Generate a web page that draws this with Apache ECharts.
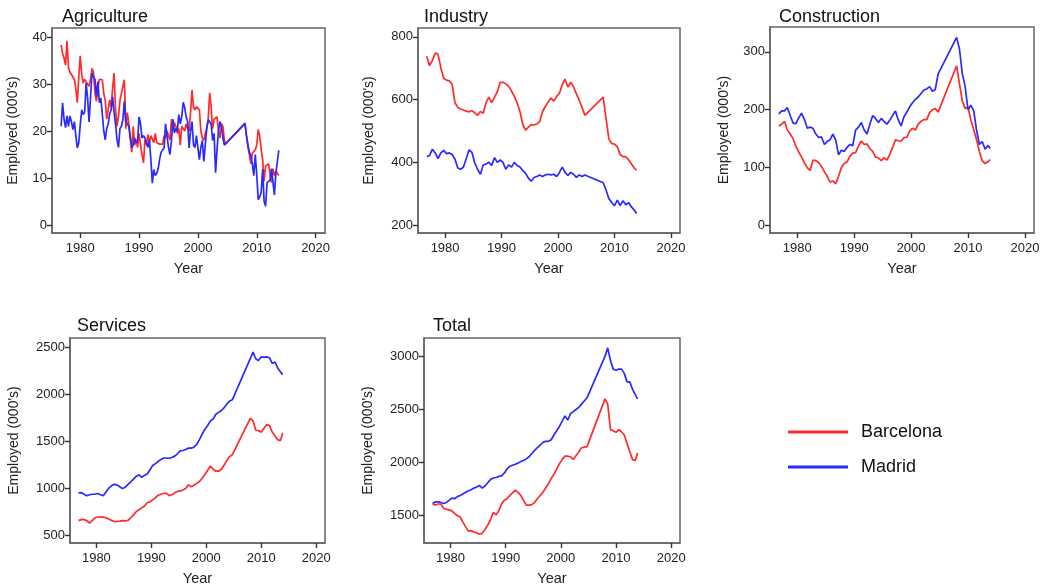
<!DOCTYPE html>
<html><head><meta charset="utf-8">
<script src="https://cdn.jsdelivr.net/npm/echarts@6/dist/echarts.min.js"></script>
<style>html,body{margin:0;padding:0;background:#fff}#c{width:1050px;height:587px}</style>
</head><body><div id="c"></div>
<script>
// ---------- time indices ----------
const semiYears = [1976.75,1977.25,1977.75,1978.25,1978.75,1979.25,1979.75,1980.25,1980.75,1981.25,1981.75,1982.25,1982.75,1983.25,1983.75,1984.25,1984.75,1985.25,1985.75,1986.25,1986.75,1987.25,1987.75,1988.25,1988.75,1989.25,1989.75,1990.25,1990.75,1991.25,1991.75,1992.25,1992.75,1993.25,1993.75,1994.25,1994.75,1995.25,1995.75,1996.25,1996.75,1997.25,1997.75,1998.25,1998.75,1999.25,1999.75,2000.25,2000.75,2001.25,2001.75,2002.25,2002.75,2003.25,2003.75,2004.25,2004.75,
  2008.0,2008.5,2009.0,2009.5,2010.0,2010.5,2011.0,2011.5,2012.0,2012.5,2013.0,2013.5,2013.9];
function quarters(a, b) { const out = []; for (let t = a; t <= b + 1e-9; t += 0.25) out.push(+t.toFixed(2)); return out; }
const quarterYears = quarters(1976.75, 2004.75).concat(quarters(2008.0, 2013.75));

// ---------- Agriculture (quarterly) ----------
const agriBarcelona = [38.3,
 36.5,35.5,34.0,39.2, 33.5,32.5,32.0,32.2, 31.0,29.0,26.0,31.5, 36.0,32.0,30.2,31.0,
 30.5,30.0,29.5,31.0, 33.3,32.5,28.0,26.3, 29.0,31.0,30.8,30.9, 28.0,26.5,22.5,24.5,
 26.6,25.0,29.0,32.3, 24.5,21.0,23.1,26.5, 26.6,29.5,30.9,20.5, 23.9,21.7,19.0,15.5,
 21.0,17.0,18.1,16.5, 19.5,17.0,15.0,13.2, 18.1,17.0,19.2,17.5, 19.0,19.3,17.5,19.5,
 17.5,17.3,17.2,17.5, 17.2,19.0,18.5,20.0, 19.0,18.1,22.5,20.2, 21.8,21.0,19.5,20.5,
 17.0,21.0,20.5,20.0, 21.5,20.5,20.0,24.0, 28.7,25.0,24.5,25.2, 25.0,24.5,20.0,18.5,
 18.0,19.5,20.5,22.5, 28.1,25.0,20.5,22.5, 22.8,23.0,20.0,18.5, 21.5,21.0,18.0,17.3,
 21.5,19.0,16.5,15.0, 13.0,15.3,15.0,16.0, 17.0,20.3,19.0,16.0, 13.9,9.3,12.5,12.5,
 13.0,13.2,9.0,12.0, 10.5,11.5,11.0,10.5];
const agriMadrid = [21.0,
 26.0,22.5,20.7,23.2, 21.0,23.2,22.0,20.3, 22.0,19.0,16.4,17.5, 21.3,24.5,23.5,24.0,
 30.2,27.0,21.9,27.0, 32.3,31.5,31.0,27.3, 30.5,26.0,27.0,23.6, 20.0,18.1,20.5,21.5,
 23.6,24.5,27.3,24.0, 21.5,18.1,16.5,20.5, 21.0,22.5,26.3,22.0, 21.5,21.0,18.5,16.4,
 17.0,18.5,17.5,18.0, 23.0,21.5,18.5,19.0, 18.5,17.5,16.5,18.0, 14.0,8.9,11.8,10.5,
 11.0,12.0,14.0,15.5, 15.1,16.4,21.5,19.0, 16.5,15.0,18.0,22.5, 19.6,20.5,20.0,23.5,
 21.5,23.0,26.1,25.0, 23.0,22.0,16.4,20.0, 22.0,17.0,16.5,19.0, 19.0,13.9,16.5,18.0,
 13.5,17.0,20.5,22.4, 22.4,21.5,18.0,19.5, 11.1,16.0,20.1,22.0, 21.0,18.5,17.0,16.6,
 21.7,19.0,17.1,15.5, 14.6,13.0,10.5,15.0, 10.7,5.4,6.0,6.9, 11.9,5.0,4.0,9.0,
 9.0,9.5,12.0,12.3, 6.4,11.0,11.0,15.9];

// ---------- Industry (semi-annual) ----------
const indBarcelona = [738,708,725,748,745,700,668,662,660,648,590,575,570,567,563,561,565,558,550,562,556,590,608,590,608,625,655,655,650,642,628,610,590,562,522,503,512,520,519,522,530,562,578,592,605,595,610,620,648,665,640,655,640,618,598,575,550,
 608,540,475,460,458,450,425,418,418,408,395,382,375];
const indMadrid = [418,422,442,430,412,430,438,428,430,425,410,382,378,385,412,440,432,398,378,362,392,395,400,390,415,400,408,400,378,392,385,400,390,385,375,365,350,340,352,355,360,355,360,362,360,362,355,368,385,368,358,368,362,352,360,355,360,
 335,312,285,272,262,280,262,278,265,272,258,248,237];

// ---------- Construction ----------
const conBarcelona = [172,175,180,165,158,150,137,127,118,108,100,95,113,112,109,102,93,85,75,77,72,85,100,107,110,120,125,126,137,146,140,141,133,128,118,117,112,117,113,123,135,148,146,146,152,152,163,168,165,175,180,183,183,195,200,202,196,
 276,245,215,202,205,182,166,148,128,112,107,110,114];
const conMadrid = [193,198,198,204,190,177,176,186,194,183,168,170,168,158,152,153,140,145,148,158,148,122,130,128,135,140,138,165,170,178,165,158,175,190,185,178,185,180,175,182,190,198,182,172,188,196,205,212,218,222,228,234,236,240,232,235,262,
 325,305,262,240,200,208,198,165,140,145,132,138,133];

// ---------- Services ----------
const serBarcelona = [660,670,672,660,632,660,690,698,700,697,690,678,662,650,652,655,660,658,662,690,720,755,775,795,815,850,860,880,905,930,940,950,950,925,935,955,970,975,985,1000,1040,1020,1035,1055,1075,1110,1150,1195,1240,1205,1185,1185,1205,1250,1300,1340,1360,
 1745,1720,1620,1615,1600,1640,1680,1670,1600,1560,1520,1510,1590];
const serMadrid = [955,958,940,925,935,940,940,948,935,925,965,1005,1030,1045,1040,1020,1000,1015,1045,1070,1100,1130,1145,1120,1140,1155,1200,1245,1265,1290,1310,1325,1325,1322,1330,1345,1370,1400,1405,1415,1430,1430,1440,1470,1520,1580,1630,1670,1720,1740,1790,1810,1830,1860,1900,1930,1945,
 2380,2450,2380,2360,2400,2395,2400,2390,2330,2345,2280,2240,2210];

// ---------- Total ----------
const totBarcelona = [1610,1600,1610,1610,1570,1560,1555,1545,1520,1500,1490,1440,1395,1355,1360,1345,1340,1325,1335,1370,1410,1460,1530,1510,1545,1610,1645,1660,1690,1715,1740,1720,1690,1645,1600,1600,1605,1625,1660,1690,1720,1760,1800,1850,1890,1940,1990,2030,2060,2060,2055,2030,2065,2100,2140,2145,2150,
 2600,2550,2310,2300,2285,2310,2290,2260,2180,2100,2030,2020,2090];
const totMadrid = [1615,1630,1630,1625,1615,1625,1645,1665,1660,1680,1690,1705,1720,1735,1745,1760,1770,1785,1760,1780,1810,1840,1855,1860,1870,1875,1900,1940,1965,1975,1985,1995,2010,2020,2035,2055,2085,2115,2140,2165,2190,2200,2200,2215,2260,2300,2340,2390,2440,2400,2460,2480,2500,2520,2550,2580,2610,
 3000,3080,2960,2880,2870,2880,2880,2840,2760,2760,2690,2640,2600];

const panelTitles = ['Agriculture','Industry','Construction','Services','Total'];
const xTicks = [1980,1990,2000,2010,2020];
const yTicks = [[0,10,20,30,40],[200,400,600,800],[0,100,200,300],[500,1000,1500,2000,2500],[1500,2000,2500,3000]];
const seriesNames = ['Barcelona','Madrid'];

// ---------- layout / style ----------
const FONT = 'Liberation Sans, Arial, Helvetica, sans-serif';
const RED = '#ff2a2a', BLUE = '#2a2aff';
const grids = [
  {left:52, top:28, width:273, height:205},
  {left:418, top:28, width:262, height:205},
  {left:770, top:27, width:264, height:206},
  {left:70, top:338, width:255, height:205},
  {left:424, top:338, width:256, height:205}
];
const yRanges = [[-1.7,41.9],[175,828],[-13,343],[422,2600],[1243,3173]];
const titlePos = [[57,3],[419,3],[774,3],[72,312],[428,312]];
const yNameGap = [32,42,39,49,49];

const panels = [
  {x: quarterYears, b: agriBarcelona, m: agriMadrid},
  {x: semiYears, b: indBarcelona, m: indMadrid},
  {x: semiYears, b: conBarcelona, m: conMadrid},
  {x: semiYears, b: serBarcelona, m: serMadrid},
  {x: semiYears, b: totBarcelona, m: totMadrid}
];

const axisLine = {show: true, onZero: false, lineStyle: {color: '#666', width: 1.5}};
const tickStyle = {color: '#333', width: 1.4};
const xAxis = [], yAxis = [], series = [], title = [];
grids.forEach((g, i) => {
  title.push({text: panelTitles[i], left: titlePos[i][0], top: titlePos[i][1],
    textStyle: {fontFamily: FONT, fontSize: 18, fontWeight: 'normal', color: '#111'}});
  xAxis.push({type: 'value', gridIndex: i, position: 'bottom', min: 1975.2, max: 2021.6,
    name: 'Year', nameLocation: 'middle', nameGap: 28,
    nameTextStyle: {fontFamily: FONT, fontSize: 14.5, color: '#222'},
    axisLine, splitLine: {show: false},
    axisTick: {show: true, inside: false, length: 5, lineStyle: tickStyle, customValues: xTicks},
    axisLabel: {fontFamily: FONT, fontSize: 13, color: '#222', margin: 9, customValues: xTicks, formatter: v => String(v)}
  });
  yAxis.push({type: 'value', gridIndex: i, position: 'left', min: yRanges[i][0], max: yRanges[i][1],
    name: "Employed (000's)", nameLocation: 'middle', nameGap: yNameGap[i], nameRotate: 90,
    nameTextStyle: {fontFamily: FONT, fontSize: 14, color: '#222'},
    axisLine, splitLine: {show: false},
    axisTick: {show: true, inside: false, length: 5, lineStyle: tickStyle, customValues: yTicks[i]},
    axisLabel: {fontFamily: FONT, fontSize: 13, color: '#222', margin: 5, customValues: yTicks[i], formatter: v => String(v)}
  });
  const p = panels[i];
  [[p.b, RED, seriesNames[0]], [p.m, BLUE, seriesNames[1]]].forEach(([vals, col, nm]) => {
    series.push({type: 'line', name: nm, xAxisIndex: i, yAxisIndex: i, showSymbol: false, symbol: 'none',
      animation: false, lineStyle: {color: col, width: 1.7}, itemStyle: {color: col},
      data: p.x.map((t, k) => [t, vals[k]])});
  });
});

const chart = echarts.init(document.getElementById('c'), null, {renderer: 'canvas'});
chart.setOption({
  animation: false,
  backgroundColor: '#fff',
  title,
  grid: grids.map(g => Object.assign({show: true, borderColor: '#666', borderWidth: 1.5, containLabel: false}, g)),
  xAxis, yAxis, series,
  legend: {data: seriesNames, orient: 'vertical', left: 783, top: 418, itemWidth: 60, itemHeight: 3, itemGap: 17,
    icon: 'rect', textStyle: {fontFamily: FONT, fontSize: 18, color: '#111', padding: [0,0,0,8]}}
});
</script></body></html>
